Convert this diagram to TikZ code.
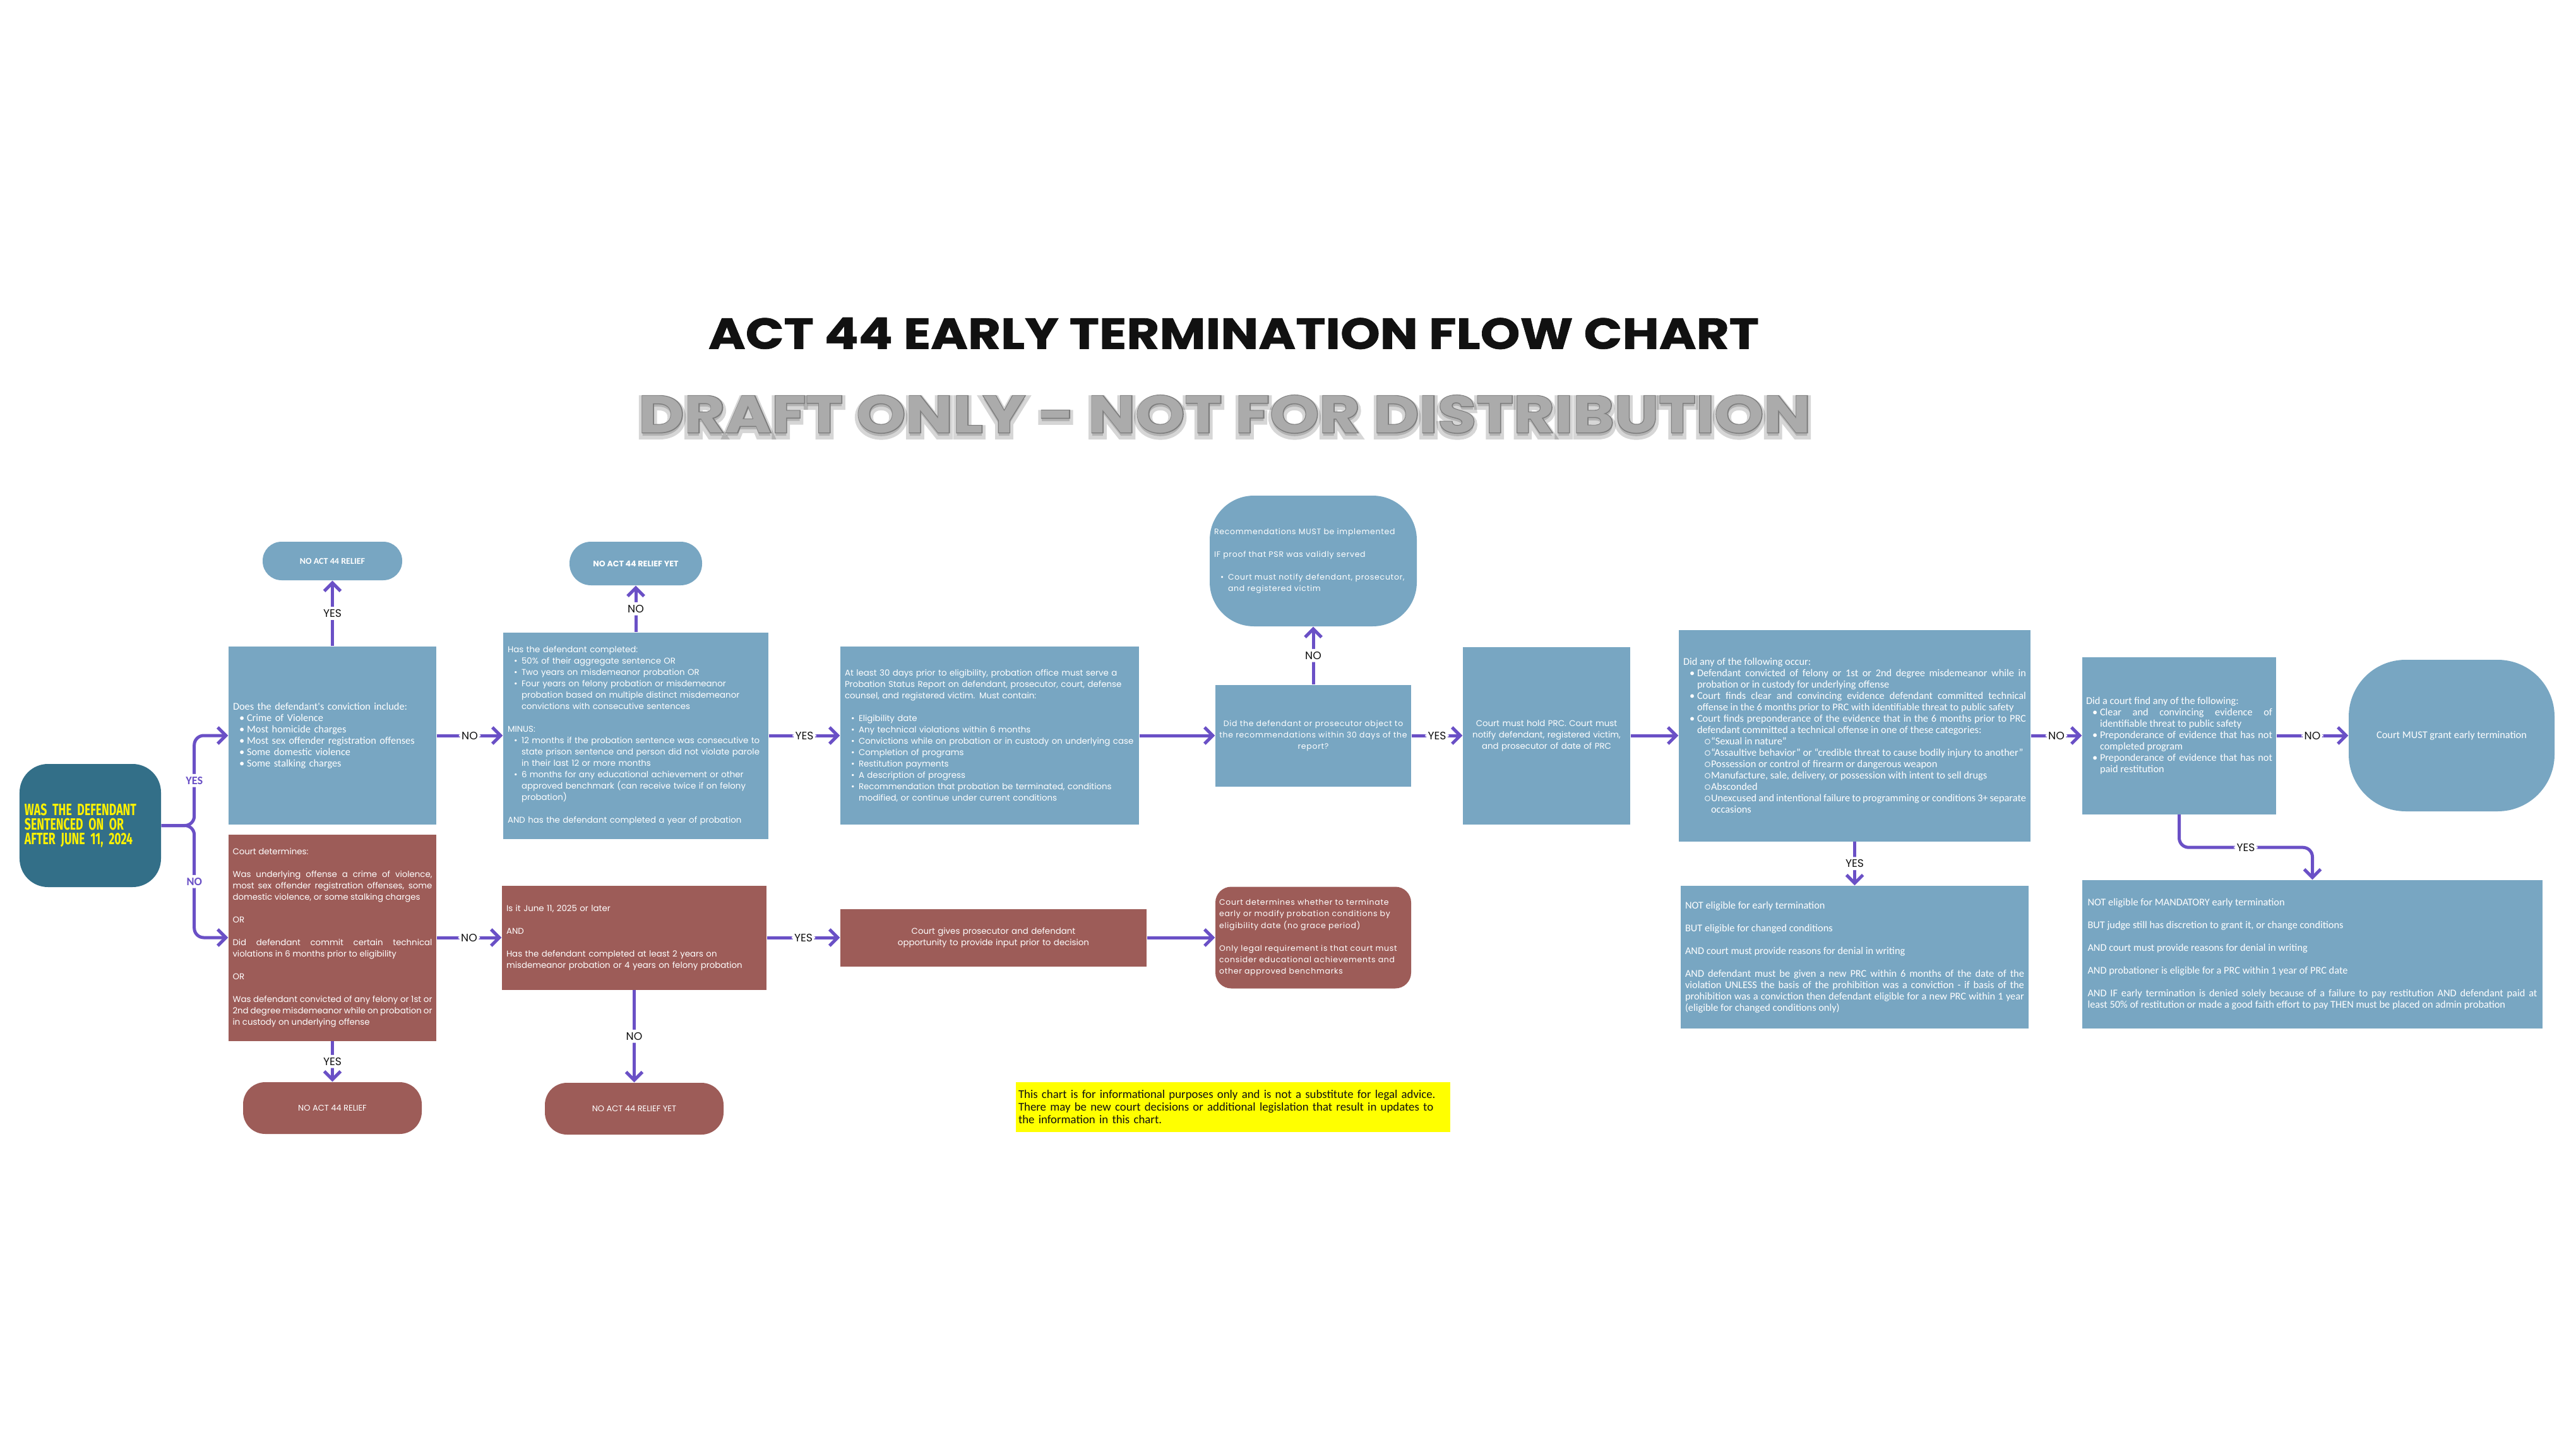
\documentclass[tikz,border=0pt]{standalone}
\usepackage{fontspec}
\setmainfont{Poppins}
\newfontfamily\narrowfont{Carlito}
\newfontfamily\trackfont[LetterSpace=6]{Poppins}
\newfontfamily\condfont[FakeStretch=0.68]{Fira Sans}
\newfontfamily\headfont[FakeStretch=1.16,FakeBold=1]{Poppins}
\newfontfamily\draftfont[FakeStretch=1.2]{Poppins}
\newfontfamily\draftrimfont[FakeStretch=1.2,FakeBold=3]{Poppins}
\newfontfamily\drafthalofont[FakeStretch=1.2,FakeBold=14]{Poppins}
\usetikzlibrary{arrows.meta,positioning,calc}

\setlength{\parindent}{0pt}
\hyphenpenalty=10000
\exhyphenpenalty=10000
\tolerance=9999
\emergencystretch=1em

\definecolor{paper}{HTML}{FFFFFF}
\definecolor{ink}{HTML}{111111}
\definecolor{qblue}{HTML}{78A6C2}
\definecolor{qred}{HTML}{9D5C58}
\definecolor{teal}{HTML}{336F88}
\definecolor{flow}{HTML}{6A50C6}
\definecolor{startyel}{HTML}{FFF200}
\definecolor{notey}{HTML}{FFFF00}
\definecolor{draftface}{HTML}{ABABAB}
\definecolor{draftedge}{HTML}{7C7C7C}

\newcommand{\RowY}{-11.65}
\newcommand{\RedY}{-14.85}
\newcommand{\BodyFont}{\fontsize{3.8}{5.12}\selectfont}
\newcommand{\TrackFont}{\trackfont\fontsize{3.55}{5.15}\selectfont}
\newcommand{\SlimFont}{\narrowfont\fontsize{4.65}{5.12}\selectfont}
\newcommand{\DraftSize}{\bfseries\fontsize{23.6}{26}\selectfont}
\newcommand{\DraftText}{DRAFT ONLY - NOT FOR DISTRIBUTION}
\newcommand{\skipline}{\par\vspace{\baselineskip}}
\newcommand{\bitem}[1]{\par\noindent\hangindent=0.22cm\hangafter=1\makebox[0.22cm][l]{\hspace{0.1cm}\textbullet}#1\par}
\newcommand{\citem}[1]{\par\noindent\hangindent=0.44cm\hangafter=1\makebox[0.44cm][l]{\hspace{0.32cm}$\scriptscriptstyle\circ$}#1\par}

\begin{document}
\begin{tikzpicture}[
    ink,
    conn/.style={draw=flow, line width=0.05cm, rounded corners=0.15cm, -{Straight Barb[length=1.3mm, width=2.6mm]}},
    lbl/.style={fill=paper, inner sep=1.2pt, text=ink, font=\fontsize{4.9}{5}\selectfont},
    lblp/.style={fill=paper, inner sep=1.2pt, text=flow, font=\narrowfont\bfseries\fontsize{5.2}{5.5}\selectfont},
    qbox/.style={fill=qblue, text=white, inner sep=0pt, align=left, font=\BodyFont},
    rbox/.style={fill=qred, text=white, inner sep=0pt, align=left, font=\BodyFont},
    pill/.style={fill=qblue, text=white, inner sep=0pt, align=center},
    rpill/.style={fill=qred, text=white, inner sep=0pt, align=center, rounded corners=0.35cm, minimum width=2.83cm, minimum height=0.82cm, font=\fontsize{3.7}{4}\selectfont},
    start/.style={fill=teal, text=startyel, rounded corners=0.45cm, inner sep=0pt, align=left, font=\condfont\bfseries\fontsize{7.4}{6.6}\selectfont},
  ]

\useasboundingbox (0,0) rectangle (40.8,-22.95);
\fill[paper] (0,0) rectangle (40.8,-22.95);

% --- Heading and the draft stamp ---------------------------------------------
\node[font=\headfont\bfseries\fontsize{19.6}{22}\selectfont] (title) at (19.54,-5.28) {ACT 44 EARLY TERMINATION FLOW CHART};
\node[text=black, opacity=0.16, font=\drafthalofont\DraftSize] (drafthalo) at (19.40,-6.61) {\DraftText};
\node[text=draftedge, font=\draftrimfont\DraftSize] (draftrim) at (19.40,-6.56) {\DraftText};
\node[text=draftface, font=\draftfont\DraftSize] (draft) at (19.40,-6.56) {\DraftText};

% --- Start question and its two branches -------------------------------------
\node[start, minimum width=2.24cm, minimum height=1.95cm, text width=2.08cm] (start) at (1.43,-13.075)
  {WAS THE DEFENDANT\\SENTENCED ON OR\\AFTER JUNE 11, 2024};

\node[qbox, minimum width=3.29cm, minimum height=2.82cm, text width=3.15cm, font=\SlimFont] (q1) at (5.265,\RowY)
  {Does the defendant's conviction include:
   \bitem{Crime of Violence}
   \bitem{Most homicide charges}
   \bitem{Most sex offender registration offenses}
   \bitem{Some domestic violence}
   \bitem{Some stalking charges}};
\node[pill, minimum width=2.21cm, minimum height=0.61cm, rounded corners=0.3cm, font=\narrowfont\bfseries\fontsize{4}{4.5}\selectfont] (np1) at (5.265,-8.885) {NO ACT 44 RELIEF};

\node[rbox, minimum width=3.29cm, minimum height=3.27cm, text width=3.16cm, align=justify] (r1) at (5.265,\RedY)
  {Court determines:\skipline
   Was underlying offense a crime of violence, most sex offender registration offenses, some domestic violence, or some stalking charges\skipline
   OR\skipline
   Did defendant commit certain technical violations in 6 months prior to eligibility\skipline
   OR\skipline
   Was defendant convicted of any felony or 1st or 2nd degree misdemeanor while on probation or in custody on underlying offense};
\node[rpill] (rp1) at (5.265,-17.55) {NO ACT 44 RELIEF};

% --- Time served --------------------------------------------------------------
\node[qbox, minimum width=4.20cm, minimum height=3.27cm, text width=4.06cm] (q2) at (10.07,\RowY)
  {Has the defendant completed:
   \bitem{50\% of their aggregate sentence OR}
   \bitem{Two years on misdemeanor probation OR}
   \bitem{Four years on felony probation or misdemeanor probation based on multiple distinct misdemeanor convictions with consecutive sentences}
   \skipline
   MINUS:
   \bitem{12 months if the probation sentence was consecutive to state prison sentence and person did not violate parole in their last 12 or more months}
   \bitem{6 months for any educational achievement or other approved benchmark (can receive twice if on felony probation)}
   \skipline
   AND has the defendant completed a year of probation};
\node[pill, minimum width=2.10cm, minimum height=0.69cm, rounded corners=0.34cm, font=\bfseries\fontsize{3.6}{4}\selectfont] (np2) at (10.07,-8.925) {NO ACT 44 RELIEF YET};

\node[rbox, minimum width=4.19cm, minimum height=1.65cm, text width=4.05cm] (r2) at (10.045,\RedY)
  {Is it June 11, 2025 or later\skipline
   AND\skipline
   Has the defendant completed at least 2 years on misdemeanor probation or 4 years on felony probation};
\node[rpill] (rp2) at (10.045,-17.56) {NO ACT 44 RELIEF YET};

% --- Status report and the court's input -------------------------------------
\node[qbox, minimum width=4.73cm, minimum height=2.82cm, text width=4.59cm] (q3) at (15.675,\RowY)
  {At least 30 days prior to eligibility, probation office must serve a Probation Status Report on defendant, prosecutor, court, defense counsel, and registered victim. Must contain:\skipline
   \bitem{Eligibility date}
   \bitem{Any technical violations within 6 months}
   \bitem{Convictions while on probation or in custody on underlying case}
   \bitem{Completion of programs}
   \bitem{Restitution payments}
   \bitem{A description of progress}
   \bitem{Recommendation that probation be terminated, conditions modified, or continue under current conditions}};
\node[rbox, minimum width=4.85cm, minimum height=0.91cm, text width=4.65cm, align=center] (r3) at (15.735,\RedY)
  {Court gives prosecutor and defendant opportunity to provide input prior to decision};

% --- Objection to the recommendations ----------------------------------------
\node[qbox, minimum width=3.10cm, minimum height=1.61cm, text width=3.09cm, align=center, font=\TrackFont] (q4) at (20.80,\RowY)
  {Did the defendant or prosecutor object to\\the recommendations within 30 days of the\\report?};
\node[pill, minimum width=3.28cm, minimum height=2.07cm, rounded corners=0.7cm, text width=3.14cm, align=left, font=\TrackFont] (rec) at (20.80,-8.885)
  {Recommendations MUST be implemented\skipline
   IF proof that PSR was validly served\skipline
   {\rightskip=0pt\bitem{Court must notify defendant, prosecutor, and registered victim}}};
\node[rbox, minimum width=3.10cm, minimum height=1.61cm, text width=2.98cm, rounded corners=0.25cm, font=\TrackFont] (r4) at (20.80,\RedY)
  {Court determines whether to terminate early or modify probation conditions by eligibility date (no grace period)\skipline
   Only legal requirement is that court must consider educational achievements and other approved benchmarks};

% --- Probation review conference ---------------------------------------------
\node[qbox, minimum width=2.65cm, minimum height=2.81cm, text width=2.55cm, align=center] (q5) at (24.495,\RowY)
  {Court must hold PRC. Court must notify defendant, registered victim, and prosecutor of date of PRC};

\node[qbox, minimum width=5.57cm, minimum height=3.35cm, text width=5.43cm, align=justify, font=\SlimFont] (q6) at (29.375,\RowY)
  {Did any of the following occur:
   \bitem{Defendant convicted of felony or 1st or 2nd degree misdemeanor while in probation or in custody for underlying offense}
   \bitem{Court finds clear and convincing evidence defendant committed technical offense in the 6 months prior to PRC with identifiable threat to public safety}
   \bitem{Court finds preponderance of the evidence that in the 6 months prior to PRC defendant committed a technical offense in one of these categories:}
   \citem{“Sexual in nature”}
   \citem{“Assaultive behavior” or “credible threat to cause bodily injury to another”}
   \citem{Possession or control of firearm or dangerous weapon}
   \citem{Manufacture, sale, delivery, or possession with intent to sell drugs}
   \citem{Absconded}
   \citem{Unexcused and intentional failure to programming or conditions 3+ separate occasions}};
\node[qbox, minimum width=5.51cm, minimum height=2.26cm, text width=5.37cm, align=justify, font=\SlimFont] (b6) at (29.375,-15.16)
  {NOT eligible for early termination\skipline
   BUT eligible for changed conditions\skipline
   AND court must provide reasons for denial in writing\skipline
   AND defendant must be given a new PRC within 6 months of the date of the violation UNLESS the basis of the prohibition was a conviction - if basis of the prohibition was a conviction then defendant eligible for a new PRC within 1 year (eligible for changed conditions only)};

% --- Mandatory termination -----------------------------------------------------
\node[qbox, minimum width=3.07cm, minimum height=2.49cm, text width=2.95cm, align=justify, font=\SlimFont] (q7) at (34.515,\RowY)
  {Did a court find any of the following:
   \bitem{Clear and convincing evidence of identifiable threat to public safety}
   \bitem{Preponderance of evidence that has not completed program}
   \bitem{Preponderance of evidence that has not paid restitution}};
\node[pill, minimum width=3.26cm, minimum height=2.40cm, rounded corners=0.9cm, font=\SlimFont] (grant) at (38.83,\RowY)
  {Court MUST grant early termination};
\node[qbox, minimum width=7.29cm, minimum height=2.35cm, text width=7.12cm, align=justify, font=\SlimFont] (b7) at (36.625,-15.115)
  {NOT eligible for MANDATORY early termination\skipline
   BUT judge still has discretion to grant it, or change conditions\skipline
   AND court must provide reasons for denial in writing\skipline
   AND probationer is eligible for a PRC within 1 year of PRC date\skipline
   AND IF early termination is denied solely because of a failure to pay restitution AND defendant paid at\linebreak least 50\% of restitution or made a good faith effort to pay THEN must be placed on admin probation};

% --- Disclaimer ------------------------------------------------------------------
\node[fill=notey, minimum width=6.88cm, minimum height=0.79cm, text width=6.80cm, inner sep=0pt, align=left, font=\narrowfont\fontsize{5.35}{5.7}\selectfont] (note) at (19.53,-17.535)
  {This chart is for informational purposes only and is not a substitute for legal advice.\\
   There may be new court decisions or additional legislation that result in updates to\\
   the information in this chart.};

% --- Connectors ------------------------------------------------------------------
\draw[conn] (start.east) -- ++(0.52,0) |- (q1.west) node[pos=0.25, lblp] {YES};
\draw[conn] (start.east) -- ++(0.52,0) |- (r1.west) node[pos=0.25, lblp] {NO};

\foreach \a/\b/\t in {q1/q2/NO, q2/q3/YES, q4/q5/YES, q6/q7/NO, q7/grant/NO, r1/r2/NO, r2/r3/YES}
  \draw[conn] (\a.east) -- (\b.west) node[midway, lbl] {\t};
\foreach \a/\b in {q3/q4, q5/q6, r3/r4}
  \draw[conn] (\a.east) -- (\b.west);

\foreach \a/\b/\t in {q1/np1/YES, q2/np2/NO, q4/rec/NO}
  \draw[conn] (\a.north) -- (\b.south) node[midway, lbl] {\t};
\foreach \a/\b/\t in {r1/rp1/YES, r2/rp2/NO, q6/b6/YES}
  \draw[conn] (\a.south) -- (\b.north) node[midway, lbl] {\t};

\draw[conn] (q7.south) -- ++(0,-0.52) -| (b7.north) node[pos=0.25, lbl] {YES};

\end{tikzpicture}
\end{document}
